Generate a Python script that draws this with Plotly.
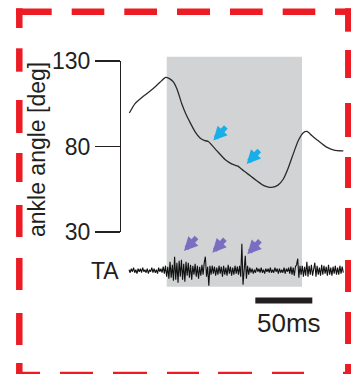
import numpy as np
import plotly.graph_objects as go

W, H = 351, 374
FONT = "Liberation Sans"
INK = "#231f20"

# ---------------- data ----------------
# Ankle angle trace: time (ms from trace start) and angle (deg)
angle_t = [0.3, 5.3, 13.2, 21.3, 27.2, 32.2, 35.4, 38.9, 42.5, 46.2, 50.0, 53.5, 58.0, 62.3, 66.0,
           69.6, 76.9, 84.2, 90.4, 95.5, 100.3, 106.1, 112.0, 117.5, 121.5, 125.2, 130.7, 135.4,
           139.5, 144.1, 148.5, 152.9, 156.1, 160.3, 165.8, 173.4, 179.8, 188.0]
angle_deg = [99.6, 105.1, 109.7, 113.9, 117.6, 120.4, 119.7, 117.8, 112.9, 105.1, 98.8, 94.1, 88.6, 85.0, 83.6,
             82.9, 77.6, 72.4, 69.7, 68.5, 65.9, 63.0, 60.0, 57.4, 56.4, 56.1, 57.4, 61.0,
             67.1, 75.7, 83.5, 88.1, 88.8, 86.5, 83.5, 79.6, 77.9, 77.4]

# TA EMG trace (arbitrary units), one sample per ms
EMG_DT_MS = 1.0
ta_emg = [
    1, -2, 2, -1, 3, -2, 1, -3, 2, -1, 2, -2, 3, -1, 1, -2, 2, -3, 1, -1, 3, -2, 2, -2, 1, -3, 3, -1, 2, -2, 4, -3,
    5, -6, 4, -8, 9, -7, 6, -10, 14, -9, 8, -12, 10, -6, 11, -9, 7, -11, 9, -5, 8, -7, 6, -9, 5, -4, 7, -6, 5, -8, 4,
    -5, 6, -4, 8, 14, -6, 4, -15, 5,
    -4, 5, -3, 4, -5, 3, -4, 5, -3, 4, -6, 5, -4, 3, -5, 6, -3, 4, -5, 3, -4, 5, -3, 4, -4, 5,
    -6, 27, -14, 6, 15, -8, 5, -4,
    3, -2, 2, -3, 1, -2, 3, -1, 2, -2, 3, -2, 1, -3, 2, -1, 2, -2, 3, -2, 1, -2, 3, -1, 2, -3, 2, -2, 1, -2, 3, -3, 2, -1, 3,
    -3, 4, -4, 3, -5, 4, 6, 12, -7, 5,
    -4, 5, -6, 4, -5, 9, -6, 5, -4, 6, -5, 4, 8, -6, 5, -4, 3, -5, 6, -4, 5, -3, 4, -5, 6, -4, 3, -5, 4, -3, 5, -4, 3, -4, 5, -3, 4, -2,
]
emg_t = np.arange(len(ta_emg)) * EMG_DT_MS

# Shaded window (ms)
shade_start, shade_end = 33.1, 151.8
# Arrow events
cyan_arrow_t = [73.9, 103.2]
cyan_arrow_deg = [83.5, 69.8]
purple_arrow_t = [48.2, 73.1, 103.8]
purple_arrow_amp = [19.7, 18.0, 16.4]
# Scale bar
scale_bar_ms = 50
scale_bar_start = 110.8
y_ticks = [30, 80, 130]

# ---------------- helpers ----------------
PX_PER_MS = 1.14
x0_px = 129.0
xmin = -x0_px / PX_PER_MS
xmax = xmin + W / PX_PER_MS


def py(p):
    return 1 - p / H


def pxx(p):
    return p / W


fig = go.Figure()

fig.add_trace(go.Scatter(x=angle_t, y=angle_deg, mode="lines",
                         line=dict(color="#2b2b2b", width=1.3, shape="spline", smoothing=0.5),
                         xaxis="x", yaxis="y", hoverinfo="skip", showlegend=False))
fig.add_trace(go.Scatter(x=emg_t, y=ta_emg, mode="lines",
                         line=dict(color="#111111", width=1.1),
                         xaxis="x", yaxis="y2", hoverinfo="skip", showlegend=False))

shapes = []
# grey window
shapes.append(dict(type="rect", xref="x", yref="paper", x0=shade_start, x1=shade_end,
                   y0=py(286.7), y1=py(56.7), fillcolor="#d1d3d4", line=dict(width=0), layer="below"))
# scale bar
shapes.append(dict(type="rect", xref="x", yref="paper", x0=scale_bar_start,
                   x1=scale_bar_start + scale_bar_ms, y0=py(303.5), y1=py(297.5),
                   fillcolor=INK, line=dict(width=0)))

# dashed red frame
RED = "#ed1c24"
LW = 6.5
top_y, bot_y, left_x, right_x = 11.7, 375.0, 19.3, 348.3
top_seg = [(16, 51.7), (71.7, 104.3), (124.3, 157), (177, 210), (230, 262.7), (282.7, 315.3), (335, 351)]
bot_seg = [(16, 40), (60, 93), (113, 147), (167, 199), (218, 252), (272, 304), (343, 351)]
left_seg = [(8.3, 28), (48.3, 71.7), (100, 133), (153, 182), (205, 237), (258, 290), (313, 345), (363, 374)]
right_seg = [(8.3, 31.7), (50, 78), (103, 137), (157, 188), (208, 240), (260, 292), (312, 344), (364, 374)]
for a, b in top_seg:
    shapes.append(dict(type="line", xref="paper", yref="paper", x0=pxx(a), x1=pxx(b),
                       y0=py(top_y), y1=py(top_y), line=dict(color=RED, width=LW)))
for a, b in bot_seg:
    shapes.append(dict(type="line", xref="paper", yref="paper", x0=pxx(a), x1=pxx(b),
                       y0=py(bot_y), y1=py(bot_y), line=dict(color=RED, width=LW)))
for a, b in left_seg:
    shapes.append(dict(type="line", xref="paper", yref="paper", x0=pxx(left_x), x1=pxx(left_x),
                       y0=py(a), y1=py(b), line=dict(color=RED, width=LW)))
for a, b in right_seg:
    shapes.append(dict(type="line", xref="paper", yref="paper", x0=pxx(right_x), x1=pxx(right_x),
                       y0=py(a), y1=py(b), line=dict(color=RED, width=LW)))

annotations = []
for t, d in zip(cyan_arrow_t, cyan_arrow_deg):
    annotations.append(dict(x=t, y=d, xref="x", yref="y", text="", showarrow=True,
                            ax=14, ay=-15, arrowhead=2, arrowwidth=5, arrowsize=0.55,
                            arrowcolor="#1aaee8", standoff=0))
for t, a in zip(purple_arrow_t, purple_arrow_amp):
    annotations.append(dict(x=t, y=a, xref="x", yref="y2", text="", showarrow=True,
                            ax=14, ay=-15, arrowhead=2, arrowwidth=5, arrowsize=0.55,
                            arrowcolor="#7a6ec0", standoff=0))
annotations.append(dict(x=pxx(37), y=py(150), xref="paper", yref="paper", text="ankle angle [deg]",
                        textangle=-90, showarrow=False, xanchor="center", yanchor="middle",
                        font=dict(family=FONT, size=23, color=INK)))
annotations.append(dict(x=pxx(121), y=py(271), xref="paper", yref="paper", text="TA",
                        showarrow=False, xanchor="right", yanchor="middle",
                        font=dict(family=FONT, size=23, color=INK)))
annotations.append(dict(x=scale_bar_start + scale_bar_ms / 2 + 4.2, y=py(323), xref="x", yref="paper",
                        text=f"{scale_bar_ms}ms", showarrow=False, xanchor="center", yanchor="middle",
                        font=dict(family=FONT, size=26, color=INK)))

fig.update_layout(
    template="none",
    width=W, height=H, autosize=False,
    margin=dict(l=0, r=0, t=0, b=0, pad=0, autoexpand=False),
    paper_bgcolor="white", plot_bgcolor="white",
    showlegend=False,
    shapes=shapes, annotations=annotations,
    xaxis=dict(range=[xmin, xmax], domain=[0, 1], visible=False, fixedrange=True, automargin=False),
    yaxis=dict(domain=[py(232), py(61)], range=[30, 130], anchor="free", position=pxx(120),
               tickvals=y_ticks, ticks="outside", ticklen=25, tickwidth=1.3, tickcolor=INK,
               showline=True, linecolor=INK, linewidth=1.3, showgrid=False, zeroline=False,
               automargin=False, tickfont=dict(family=FONT, size=23, color=INK)),
    yaxis2=dict(domain=[py(300.7), py(240.7)], range=[-30, 30], anchor="x", visible=False,
                showgrid=False, zeroline=False, automargin=False),
)

fig.write_html(
    "out.html",
    config={"displayModeBar": False, "staticPlot": True},
    post_script="document.body.style.margin='0';document.body.style.padding='0';"
                "document.body.style.overflow='hidden';",
)
